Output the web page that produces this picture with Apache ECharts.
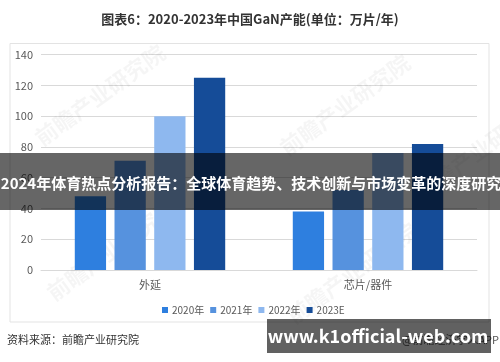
<!DOCTYPE html>
<html>
<head>
<meta charset="utf-8">
<script src="https://cdn.jsdelivr.net/npm/echarts@6/dist/echarts.min.js"></script>
<style>
html,body{margin:0;padding:0;background:#fff;}
#c{width:500px;height:362px;}
</style>
</head>
<body>
<div id="c"></div>
<script>
var categories = ['外延', '芯片/器件'];
var seriesNames = ['2020年', '2021年', '2022年', '2023E'];
var v2020 = [48, 38];
var v2021 = [71, 52];
var v2022 = [100, 76];
var v2023E = [125, 82];
var yTicks = [0, 20, 40, 60, 80, 100, 120, 140];

var colors = ['#2E7FDF', '#5692DE', '#8EB8EF', '#154C98'];
var values = [v2020, v2021, v2022, v2023E];
var font = '"Noto Sans CJK SC", "Microsoft YaHei", sans-serif';

var chart = echarts.init(document.getElementById('c'), null, {renderer: 'canvas'});

function wm(x, y) {
  return {
    type: 'text', x: x, y: y, rotation: Math.PI * 36 / 180, z: 1,
    style: { text: '前瞻产业研究院', font: 'bold 22px ' + font, fill: 'rgba(0,0,0,0.04)', textAlign: 'center', textVerticalAlign: 'middle' }
  };
}

var option = {
  animation: false,
  color: colors,
  textStyle: { fontFamily: font },
  title: {
    text: '图表6：2020-2023年中国GaN产能(单位：万片/年)',
    left: 'center', top: 8,
    textStyle: { fontSize: 13, fontWeight: 'bold', color: '#333', fontFamily: font }
  },
  grid: { left: 41, right: 23, top: 54.7, bottom: 92, containLabel: false },
  legend: {
    data: seriesNames, left: 157, top: 300,
    itemWidth: 6, itemHeight: 6, itemGap: 6,
    icon: 'rect',
    textStyle: { fontSize: 10, color: '#595959', padding: [0, 0, 0, -1] }
  },
  xAxis: {
    type: 'category', data: categories,
    axisLine: { show: true, lineStyle: { color: '#d9d9d9' } },
    axisTick: { show: false },
    axisLabel: { fontSize: 11, color: '#595959', margin: 9 }
  },
  yAxis: {
    type: 'value', min: yTicks[0], max: yTicks[yTicks.length - 1], interval: yTicks[1] - yTicks[0],
    axisLine: { show: false }, axisTick: { show: false },
    axisLabel: { fontSize: 11, color: '#595959', margin: 8 },
    splitLine: { lineStyle: { color: '#d9d9d9' } }
  },
  series: seriesNames.map(function (n, i) {
    return { name: n, type: 'bar', data: values[i], barGap: '27%', barCategoryGap: '31%', z: 2 };
  }),
  graphic: [
    { type: 'rect', shape: { x: 10, y: 43.5, width: 479, height: 278.5 }, style: { fill: 'none', stroke: '#e3e3e3', lineWidth: 1 }, z: 0 },
    wm(100, 95), wm(345, 105), wm(112, 250), wm(352, 273), wm(480, 150),
    { type: 'text', left: 7, top: 334, style: { text: '资料来源：前瞻产业研究院', font: '11px ' + font, fill: '#333' }, z: 5 },
    { type: 'text', right: 1, top: 334, style: { text: '@前瞻经济学人APP', font: '11px ' + font, fill: '#555' }, z: 5 },
    { type: 'rect', shape: { x: 0, y: 153, width: 500, height: 57 }, style: { fill: 'rgba(0,0,0,0.6)' }, z: 100 },
    { type: 'text', x: 251, y: 183, z: 101, style: { text: '2024年体育热点分析报告：全球体育趋势、技术创新与市场变革的深度研究', font: 'bold 15px ' + font, fill: '#fff', textAlign: 'center', textVerticalAlign: 'middle' } },
    { type: 'rect', shape: { x: 267, y: 319, width: 224, height: 34 }, style: { fill: 'rgba(0,0,0,0.62)' }, z: 100 },
    { type: 'text', x: 378, y: 336, z: 101, style: { text: 'www.k1official-web.com', font: 'bold 18px ' + font, fill: '#fff', textAlign: 'center', textVerticalAlign: 'middle' } }
  ]
};
chart.setOption(option);
</script>
</body>
</html>
